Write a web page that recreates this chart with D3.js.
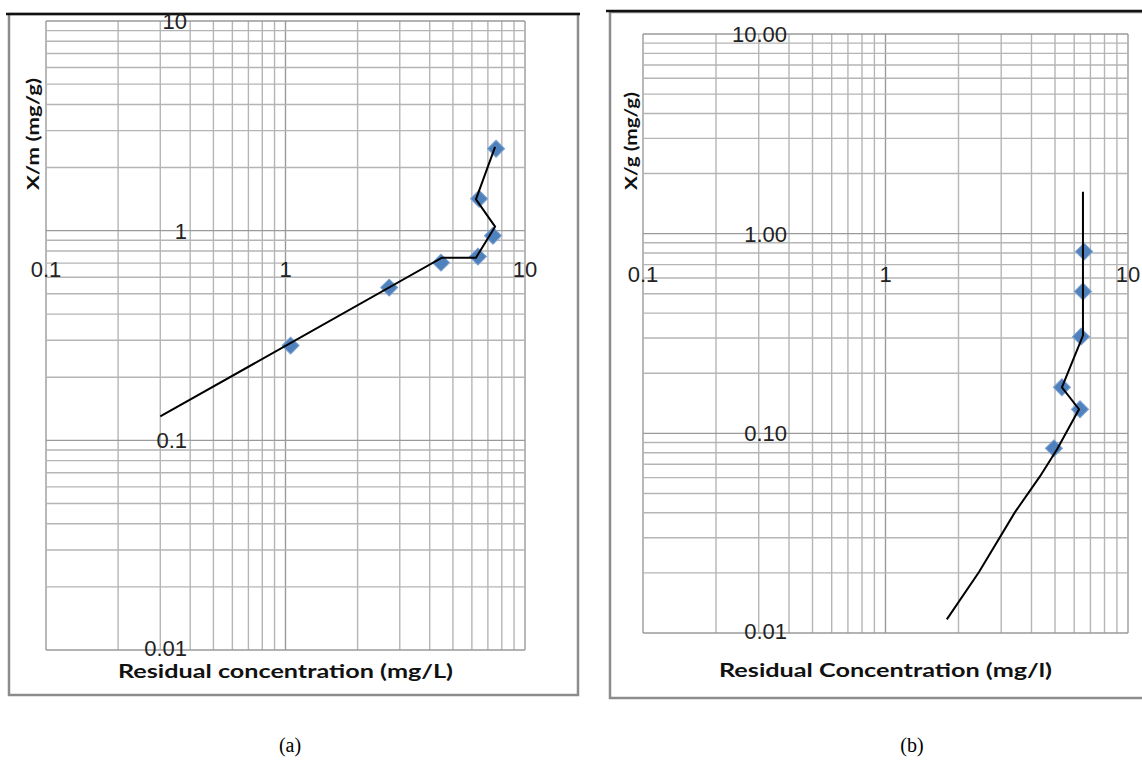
<!DOCTYPE html>
<html>
<head>
<meta charset="utf-8">
<script src="https://cdn.jsdelivr.net/npm/d3@7"></script>
<style>
  body { margin: 0; background: #fff; }
  svg { display: block; }
</style>
</head>
<body>
<svg id="vis" width="1142" height="760"></svg>
<script>
// ---- data ----
var xTickValues = [0.1, 1, 10];
var xTickLabels = ["0.1", "1", "10"];
var yTickValues = [10, 1, 0.1, 0.01];
var yTickLabelsA = ["10", "1", "0.1", "0.01"];
var yTickLabelsB = ["10.00", "1.00", "0.10", "0.01"];

// (a) measured points and fitted line
var ceA = [1.05, 2.71, 4.46, 6.36, 7.35, 6.43, 7.57];
var qeA = [0.283, 0.535, 0.704, 0.752, 0.946, 1.42, 2.46];
var lineXA = [0.3, 4.5, 6.24, 7.5, 6.24, 7.5];
var lineYA = [0.130, 0.743, 0.743, 1.045, 1.41, 2.51];

// (b) measured points and fitted line
var ceB = [4.95, 6.34, 5.34, 6.40, 6.52, 6.59];
var qeB = [0.0841, 0.132, 0.170, 0.305, 0.513, 0.813];
var lineXB = [1.79, 2.43, 3.42, 4.34, 5.10, 6.28, 5.34, 6.52, 6.52];
var lineYB = [0.0117, 0.0202, 0.0403, 0.061, 0.0832, 0.132, 0.170, 0.309, 1.62];

var svg = d3.select("#vis");

var panels = [
    {
        plot: { left: 46, right: 525, top: 21, bottom: 650 },
        frame: { x0: 9, x1: 578, y0: 14, y1: 695 },
        rule: { x0: 6, x1: 580, y: 14 },
        yLabelX: 187, xLabelY: 269,
        yLabels: yTickLabelsA,
        xTitle: "Residual concentration (mg/L)", xTitleY: 671, xTitleLen: 335,
        yTitle: "X/m (mg/g)", yTitleX: 33, yTitleY: 134, yTitleLen: 112,
        caption: "(a)", captionX: 290,
        ce: ceA, qe: qeA, lx: lineXA, ly: lineYA
    },
    {
        plot: { left: 643, right: 1128, top: 34, bottom: 633 },
        frame: { x0: 610, x1: 1150, y0: 12, y1: 698 },
        rule: { x0: 606, x1: 1142, y: 11 },
        yLabelX: 787, xLabelY: 274,
        yLabels: yTickLabelsB,
        xTitle: "Residual Concentration (mg/l)", xTitleY: 670, xTitleLen: 333,
        yTitle: "X/g (mg/g)", yTitleX: 631, yTitleY: 141, yTitleLen: 98,
        caption: "(b)", captionX: 912,
        ce: ceB, qe: qeB, lx: lineXB, ly: lineYB
    }
];

panels.forEach(drawPanel);

function drawPanel(p) {
    var g = svg.append("g");

    var x = d3.scaleLog().domain([0.1, 10]).range([p.plot.left, p.plot.right]);
    var y = d3.scaleLog().domain([0.01, 10]).range([p.plot.bottom, p.plot.top]);

    // outer frame (grey) and black rule on top
    g.append("rect")
        .attr("x", p.frame.x0).attr("y", p.frame.y0)
        .attr("width", p.frame.x1 - p.frame.x0)
        .attr("height", p.frame.y1 - p.frame.y0)
        .attr("fill", "none")
        .attr("stroke", "#8c8c8c")
        .attr("stroke-width", 2.5);
    g.append("line")
        .attr("x1", p.rule.x0).attr("x2", p.rule.x1)
        .attr("y1", p.rule.y).attr("y2", p.rule.y)
        .attr("stroke", "#111")
        .attr("stroke-width", 2.5);

    // log grid, every minor line
    var isMajor = function (v) { return Math.abs(Math.log10(v) - Math.round(Math.log10(v))) < 1e-6; };

    g.append("g").selectAll("line")
        .data(x.ticks())
        .join("line")
        .attr("x1", x).attr("x2", x)
        .attr("y1", p.plot.top).attr("y2", p.plot.bottom)
        .attr("stroke", function (d) { return isMajor(d) ? "#9a9a9a" : "#b5b5b5"; })
        .attr("stroke-width", 1.4);

    g.append("g").selectAll("line")
        .data(y.ticks())
        .join("line")
        .attr("y1", y).attr("y2", y)
        .attr("x1", p.plot.left).attr("x2", p.plot.right)
        .attr("stroke", function (d) { return isMajor(d) ? "#9a9a9a" : "#b5b5b5"; })
        .attr("stroke-width", 1.4);

    // tick labels
    g.append("g").selectAll("text")
        .data(yTickValues)
        .join("text")
        .attr("x", p.yLabelX)
        .attr("y", function (d) { return y(d) - (d === 0.01 ? 2 : 0); })
        .attr("dy", "0.36em")
        .attr("text-anchor", "end")
        .attr("font-family", "Liberation Sans, Arial, sans-serif")
        .attr("font-size", 22)
        .attr("fill", "#222")
        .text(function (d, i) { return p.yLabels[i]; });

    g.append("g").selectAll("text")
        .data(xTickValues)
        .join("text")
        .attr("x", x)
        .attr("y", p.xLabelY)
        .attr("dy", "0.36em")
        .attr("text-anchor", "middle")
        .attr("font-family", "Liberation Sans, Arial, sans-serif")
        .attr("font-size", 22)
        .attr("fill", "#222")
        .text(function (d, i) { return xTickLabels[i]; });

    // markers
    var pts = p.ce.map(function (c, i) { return [c, p.qe[i]]; });
    g.append("g").selectAll("path")
        .data(pts)
        .join("path")
        .attr("d", d3.symbol().type(d3.symbolSquare).size(145))
        .attr("transform", function (d) { return "translate(" + x(d[0]) + "," + y(d[1]) + ") rotate(45)"; })
        .attr("fill", "#4f81bd")
        .attr("stroke", "#7aa0d0")
        .attr("stroke-width", 1);

    // line series
    var linePts = p.lx.map(function (c, i) { return [c, p.ly[i]]; });
    g.append("path")
        .datum(linePts)
        .attr("d", d3.line().x(function (d) { return x(d[0]); }).y(function (d) { return y(d[1]); }))
        .attr("fill", "none")
        .attr("stroke", "#000")
        .attr("stroke-width", 2);

    // axis titles
    g.append("text")
        .attr("x", (p.plot.left + p.plot.right) / 2)
        .attr("y", p.xTitleY)
        .attr("dy", "0.36em")
        .attr("text-anchor", "middle")
        .attr("font-family", "Lato, Open Sans, sans-serif")
        .attr("font-weight", "bold")
        .attr("font-size", 19)
        .attr("textLength", p.xTitleLen)
        .attr("lengthAdjust", "spacingAndGlyphs")
        .attr("fill", "#111")
        .text(p.xTitle);

    g.append("text")
        .attr("transform", "translate(" + p.yTitleX + "," + p.yTitleY + ") rotate(-90)")
        .attr("dy", "0.36em")
        .attr("text-anchor", "middle")
        .attr("font-family", "Lato, Open Sans, sans-serif")
        .attr("font-weight", "bold")
        .attr("font-size", 17)
        .attr("textLength", p.yTitleLen)
        .attr("lengthAdjust", "spacingAndGlyphs")
        .attr("fill", "#111")
        .text(p.yTitle);

    // caption under the panel
    g.append("text")
        .attr("x", p.captionX)
        .attr("y", 752)
        .attr("text-anchor", "middle")
        .attr("font-family", "Liberation Serif, Times New Roman, serif")
        .attr("font-size", 20)
        .attr("fill", "#000")
        .text(p.caption);
}
</script>
</body>
</html>
